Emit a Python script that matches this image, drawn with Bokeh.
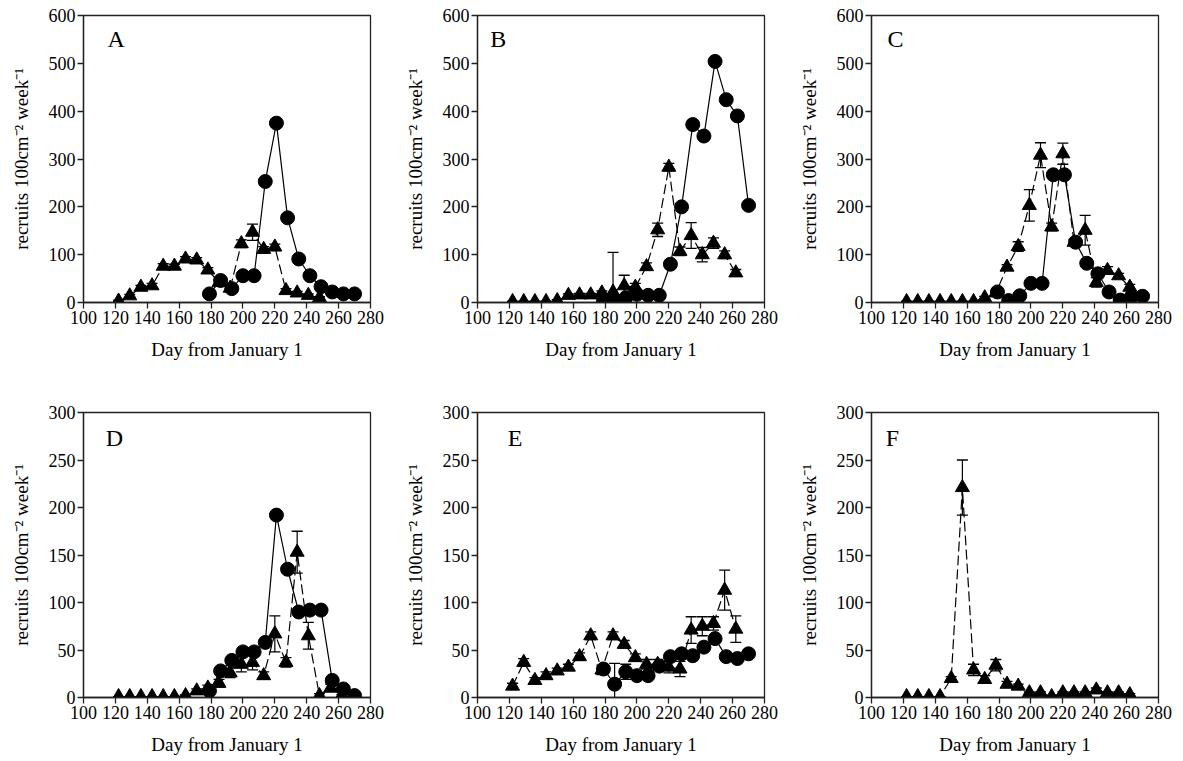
from bokeh.plotting import figure
from bokeh.layouts import column, row
from bokeh.models import Range1d, FixedTicker, Label
from bokeh.embed import file_html
from bokeh.resources import INLINE

# ---------------- data ----------------
tri_days = [122, 129, 136, 143, 150, 157, 164, 171, 178, 185, 192,
            199, 206, 213, 220, 227, 234, 241, 248, 255, 262]
circ_days = [179, 186, 193, 200, 207, 214, 221, 228, 235, 242, 249, 256, 263, 270]

x_ticks = [100, 120, 140, 160, 180, 200, 220, 240, 260, 280]
y_ticks_600 = [0, 100, 200, 300, 400, 500, 600]
y_ticks_300 = [0, 50, 100, 150, 200, 250, 300]

# Panel A
a_tri = [3, 14, 32, 35, 76, 76, 91, 89, 68, 42, 30, 123, 147, 111, 116, 25, 20, 15, 10]
a_tri_err = [2, 3, 4, 5, 5, 4, 5, 5, 5, 5, 5, 8, 17, 6, 6, 4, 3, 3, 2]
a_circ = [18, 46, 29, 56, 56, 253, 375, 177, 91, 56, 33, 22, 18, 18]
a_circ_err = [0] * 14

# Panel B
b_tri = [2, 2, 2, 2, 4, 15, 16, 16, 20, 22, 35, 32, 75, 152, 283, 107, 140, 100, 124, 100, 62]
b_tri_err = [1, 1, 1, 1, 2, 3, 3, 3, 4, 83, 22, 8, 8, 14, 8, 9, 27, 15, 11, 8, 7]
b_circ = [2, 3, 10, 17, 15, 15, 80, 200, 372, 348, 504, 424, 390, 203]
b_circ_err = [0] * 14

# Panel C
c_tri = [2, 2, 2, 2, 2, 2, 2, 10, 20, 74, 117, 203, 308, 158, 311, 126, 151, 42, 67, 56, 32]
c_tri_err = [1, 1, 1, 1, 1, 1, 1, 3, 4, 5, 10, 33, 26, 8, 22, 6, 31, 10, 8, 5, 6]
c_circ = [22, 4, 14, 40, 40, 267, 267, 126, 82, 60, 22, 5, 12, 13]
c_circ_err = [0] * 14

# Panel D
d_tri = [1, 1, 1, 1, 1, 1, 2, 7, 10, 15, 26, 35, 37, 23, 67, 37, 153, 65, 2, 10, 2]
d_tri_err = [0, 0, 0, 0, 0, 0, 1, 2, 3, 4, 5, 8, 8, 4, 19, 5, 22, 14, 2, 4, 1]
d_circ = [7, 28, 39, 48, 48, 58, 192, 135, 90, 92, 92, 18, 9, 2]
d_circ_err = [0] * 14

# Panel E
e_tri = [12, 37, 18, 23, 28, 32, 43, 65, 29, 65, 56, 42, 35, 35, 32, 30, 71, 75, 78, 113, 72]
e_tri_err = [3, 4, 3, 4, 3, 3, 4, 4, 5, 4, 4, 4, 5, 5, 6, 8, 14, 10, 7, 21, 14]
e_circ = [30, 14, 27, 23, 23, 33, 43, 46, 44, 53, 62, 43, 41, 46]
e_circ_err = [0, 22, 8, 0, 0, 0, 0, 0, 0, 0, 0, 0, 0, 0]

# Panel F (triangles only)
f_tri = [1, 1, 1, 1, 20, 221, 29, 19, 34, 14, 12, 5, 5, 1, 5, 5, 5, 8, 5, 5, 3]
f_tri_err = [0, 0, 0, 0, 2, 29, 6, 4, 6, 3, 2, 1, 1, 1, 1, 1, 1, 2, 1, 1, 1]

FONT = "Liberation Serif"
Y_LABEL = "recruits 100cm\u207b\u00b2 week\u207b\u00b9"


def panel(letter, letter_x, letter_y, ymax, yticks, tri, tri_err, circ, circ_err, top_row):
    if top_row:
        h, bt, bb = 380, 15, 78
    else:
        h, bt, bb = 381, 32, 64
    p = figure(width=394, height=h, output_backend="svg", toolbar_location=None,
               x_range=Range1d(100, 280), y_range=Range1d(0, ymax),
               min_border_left=83, min_border_right=24,
               min_border_top=bt, min_border_bottom=bb)
    p.xgrid.visible = False
    p.ygrid.visible = False
    p.outline_line_color = "#222222"
    p.outline_line_width = 1.3
    p.background_fill_color = "white"
    p.border_fill_color = "white"

    for ax in (p.xaxis[0], p.yaxis[0]):
        ax.major_label_text_font = FONT
        ax.major_label_text_font_size = "18px"
        ax.major_label_text_color = "black"
        ax.axis_label_text_font = FONT
        ax.axis_label_text_font_size = "19px"
        ax.axis_label_text_font_style = "normal"
        ax.axis_label_text_color = "black"
        ax.axis_line_color = "#222222"
        ax.axis_line_width = 1.3
        ax.major_tick_line_color = "#222222"
        ax.major_tick_line_width = 1.3
        ax.major_tick_in = 0
        ax.major_tick_out = 6
        ax.minor_tick_line_color = None
        ax.major_label_standoff = 2
    p.xaxis.ticker = FixedTicker(ticks=x_ticks)
    p.yaxis.ticker = FixedTicker(ticks=yticks)
    p.xaxis.axis_label = "Day from January 1"
    p.xaxis.axis_label_standoff = 12
    p.yaxis.axis_label = Y_LABEL
    p.yaxis.axis_label_standoff = 14

    n = len(tri)
    td = tri_days[:n]

    # lines
    if circ is not None:
        p.line(circ_days, circ, line_color="black", line_width=1.2)
    p.line(td, tri, line_color="black", line_width=1.2, line_dash="10 4")

    # error bars (triangles)
    up = [v + e for v, e in zip(tri, tri_err)]
    lo = [v - e for v, e in zip(tri, tri_err)]
    p.segment(td, lo, td, up, line_color="black", line_width=1.2)
    p.scatter(td, up, marker="dash", size=11, line_color="black", line_width=1.3)
    p.scatter(td, lo, marker="dash", size=11, line_color="black", line_width=1.3)

    if circ is not None:
        cu = [v + e for v, e in zip(circ, circ_err)]
        cl = [v - e for v, e in zip(circ, circ_err)]
        cd = [d for d, e in zip(circ_days, circ_err) if e > 0]
        cuu = [u for u, e in zip(cu, circ_err) if e > 0]
        cll = [l for l, e in zip(cl, circ_err) if e > 0]
        if cd:
            p.segment(cd, cll, cd, cuu, line_color="black", line_width=1.2)
            p.scatter(cd, cuu, marker="dash", size=11, line_color="black", line_width=1.3)
            p.scatter(cd, cll, marker="dash", size=11, line_color="black", line_width=1.3)

    # markers
    p.scatter(td, tri, marker="triangle", size=14, fill_color="black", line_color="black")
    if circ is not None:
        p.scatter(circ_days, circ, marker="circle", size=14, fill_color="black", line_color="black")

    p.add_layout(Label(x=letter_x, y=letter_y, text=letter, text_font=FONT,
                       text_font_size="24px", text_color="black"))
    return p


pa = panel("A", 115, 523, 600, y_ticks_600, a_tri, a_tri_err, a_circ, a_circ_err, True)
pb = panel("B", 108, 523, 600, y_ticks_600, b_tri, b_tri_err, b_circ, b_circ_err, True)
pc = panel("C", 110, 523, 600, y_ticks_600, c_tri, c_tri_err, c_circ, c_circ_err, True)
pd_ = panel("D", 114, 260, 300, y_ticks_300, d_tri, d_tri_err, d_circ, d_circ_err, False)
pe = panel("E", 119, 260, 300, y_ticks_300, e_tri, e_tri_err, e_circ, e_circ_err, False)
pf = panel("F", 109, 260, 300, y_ticks_300, f_tri, f_tri_err, None, None, False)

layout = column(row(pa, pb, pc), row(pd_, pe, pf))

open("out.html", "w").write(file_html(layout, INLINE))
